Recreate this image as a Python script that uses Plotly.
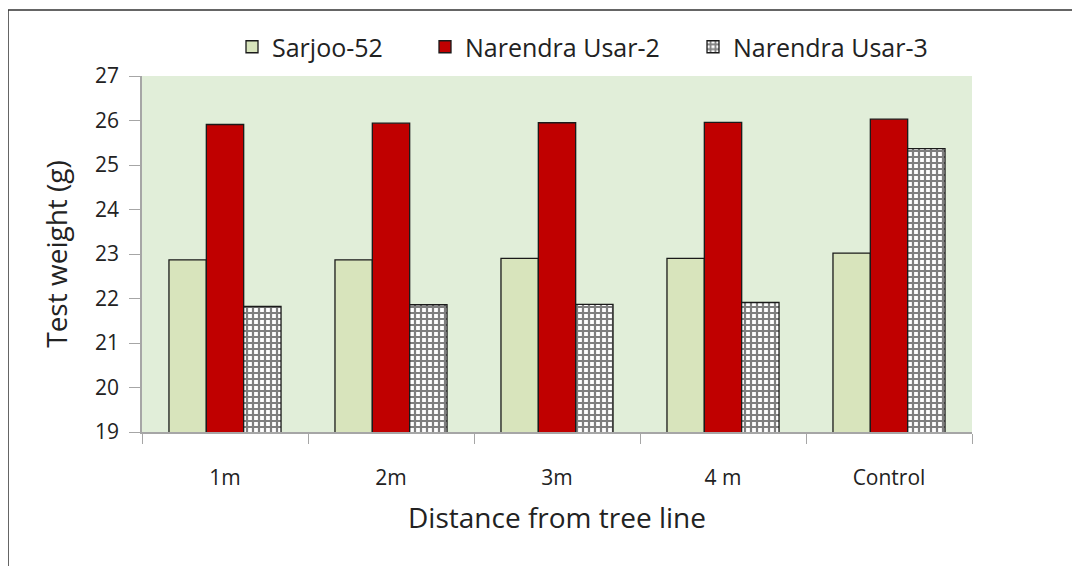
import plotly.graph_objects as go

categories = ["1m", "2m", "3m", "4 m", "Control"]
sarjoo_52 = [22.87, 22.87, 22.90, 22.90, 23.02]
narendra_usar_2 = [25.91, 25.94, 25.95, 25.96, 26.03]
narendra_usar_3 = [21.82, 21.86, 21.87, 21.91, 25.37]
y_ticks = [19, 20, 21, 22, 23, 24, 25, 26, 27]

FONT = "Open Sans"
TXT = "#222222"
AXIS = "#a6a6a6"

# page has an 8px body margin; figure sized to fit the 1080x566 viewport
W, H = 1072, 558
L, T = 134, 68
PW, PH = 830, 356

fig = go.Figure()
fig.add_trace(go.Bar(
    name="Sarjoo-52", x=categories, y=sarjoo_52, legend="legend",
    marker=dict(color="#d8e4bc", line=dict(color="#1a1a1a", width=1.3)),
))
fig.add_trace(go.Bar(
    name="Narendra Usar-2", x=categories, y=narendra_usar_2, legend="legend2",
    marker=dict(color="#c00000", line=dict(color="#1a1a1a", width=1.3)),
))
fig.add_trace(go.Bar(
    name="Narendra Usar-3", x=categories, y=narendra_usar_3, legend="legend3",
    marker=dict(color="white", line=dict(color="#1a1a1a", width=1.3),
                pattern=dict(shape="+", fgcolor="black", bgcolor="white",
                             size=6, solidity=0.6)),
))

def leg(xpage):
    return dict(orientation="h", x=(xpage - 8 - L) / PW, xanchor="left",
                y=1 + 29 / PH, yanchor="middle",
                font=dict(size=25, family=FONT, color=TXT), bgcolor="rgba(0,0,0,0)")

fig.update_layout(
    width=W, height=H,
    margin=dict(l=L, r=W - L - PW, t=T, b=H - T - PH),
    paper_bgcolor="white",
    plot_bgcolor="#e1eed9",
    barmode="group",
    bargap=0.325,
    bargroupgap=0,
    font=dict(family=FONT, color=TXT),
    showlegend=True,
    legend=leg(232),
    legend2=leg(425),
    legend3=leg(693),
    xaxis=dict(
        type="category", tickson="boundaries", ticks="outside", ticklen=10,
        tickcolor=AXIS, showline=True, linecolor=AXIS, linewidth=1.5,
        showgrid=False, tickfont=dict(size=21, family=FONT, color=TXT),
        title=dict(text="Distance from tree line", font=dict(size=28, family=FONT, color=TXT),
                   standoff=18),
        ticklabelstandoff=26,
    ),
    yaxis=dict(
        range=[19, 27], tickvals=y_ticks, ticks="outside", ticklen=11,
        tickcolor=AXIS, showline=True, linecolor=AXIS, linewidth=1.5,
        showgrid=False, zeroline=False, tickfont=dict(size=21, family=FONT, color=TXT),
        ticklabelstandoff=6,
        title=dict(text="Test weight (g)", font=dict(size=28, family=FONT, color=TXT),
                   standoff=19),
    ),
    shapes=[dict(type="rect", xref="paper", yref="paper",
                 x0=(0 - L) / PW, x1=(1200 - L) / PW,
                 y0=-(700 - T - PH) / PH, y1=1 + (T - 2) / PH,
                 line=dict(color="#333333", width=1.5), fillcolor="rgba(0,0,0,0)",
                 layer="below")],
)

fig.write_html("out.html")
